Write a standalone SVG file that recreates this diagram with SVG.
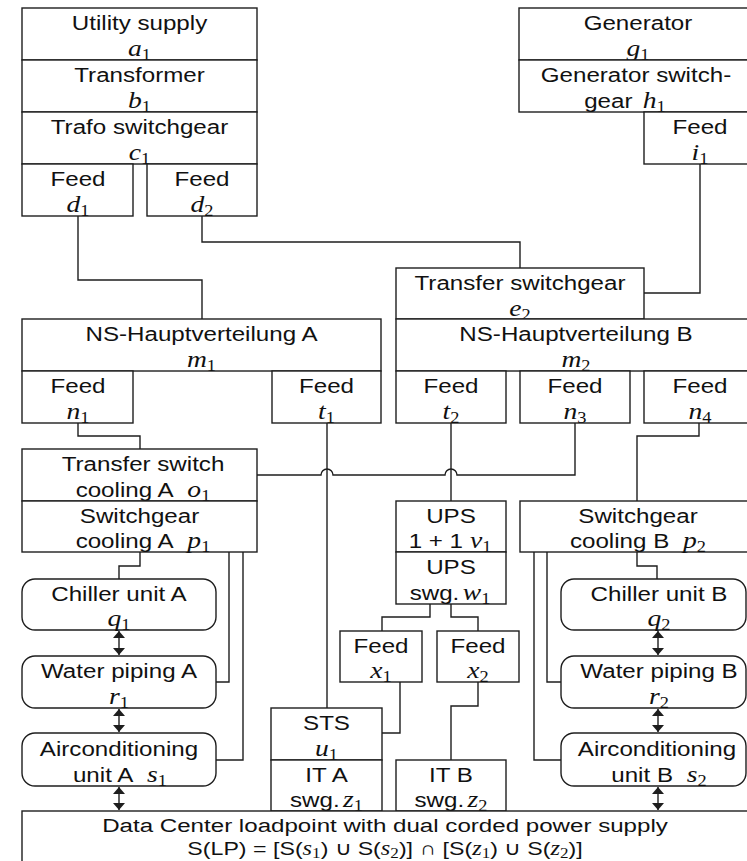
<svg xmlns="http://www.w3.org/2000/svg" width="747" height="861" viewBox="0 0 747 861">
<style>
.b{fill:#fff;stroke:#1e1e1e;stroke-width:1.4}
.c{fill:none;stroke:#1e1e1e;stroke-width:1.4}
.a{fill:none;stroke:#1e1e1e;stroke-width:1.4;marker-start:url(#ah);marker-end:url(#ah)}
.t{font-family:"Liberation Sans",Arial,sans-serif;font-size:21px;text-anchor:middle;fill:#111}
.d{font-size:19px}
.v{font-family:"Liberation Serif","Times New Roman",serif;font-style:italic;font-size:24px}
.s{font-family:"Liberation Serif","Times New Roman",serif;font-style:normal;font-size:16px}
.d .v{font-size:20px}
.d .s{font-size:14px}
</style>
<defs>
<marker id="ah" viewBox="0 0 7 12" refX="7" refY="6" markerWidth="7" markerHeight="12" markerUnits="userSpaceOnUse" orient="auto-start-reverse">
<path d="M0,0 L7,6 L0,12 z" fill="#1e1e1e"/>
</marker>
</defs>
<rect width="747" height="861" fill="#fff"/>

<g id="connectors">
<path class="c" d="M78,216 V280 H202 V319"/>
<path class="c" d="M202,216 V242 H520 V268"/>
<path class="c" d="M700,164 V293 H644"/>
<path class="c" d="M78,423 V436 H140 V449"/>
<path class="c" d="M327,423 V708"/>
<path class="c" d="M451,423 V501"/>
<path class="c" d="M257,475 H321 A6,6 0 0 1 333,475 H445 A6,6 0 0 1 457,475 H575 V423"/>
<path class="c" d="M699,423 V436 H637 V501"/>
<path class="c" d="M140,552 V566 H119 V579"/>
<path class="c" d="M229,552 V682 H216"/>
<path class="c" d="M243,552 V760 H216"/>
<path class="c" d="M430,604 V617 H382 V631"/>
<path class="c" d="M451,604 V617 H478 V631"/>
<path class="c" d="M400,682 V733 H382"/>
<path class="c" d="M478,682 V706 H451 V760"/>
<path class="c" d="M637,552 V566 H657 V579"/>
<path class="c" d="M547,552 V682 H561"/>
<path class="c" d="M534,552 V760 H561"/>
<path class="a" d="M119,631 V655"/>
<path class="a" d="M119,709 V732"/>
<path class="a" d="M119,787 V810"/>
<path class="a" d="M658,631 V655"/>
<path class="a" d="M658,709 V732"/>
<path class="a" d="M658,787 V810"/>
</g>

<g id="a1"><rect class="b" x="22" y="8" width="235" height="52"/>
<text class="t" transform="translate(139.5,29.5) scale(1.15,1)">Utility supply</text>
<text class="t" transform="translate(139.5,55.5) scale(1.15,1)"><tspan class="v">a</tspan><tspan class="s" dy="4">1</tspan></text></g>
<g id="b1"><rect class="b" x="22" y="60" width="235" height="52"/>
<text class="t" transform="translate(139.5,81.5) scale(1.15,1)">Transformer</text>
<text class="t" transform="translate(139.5,107.5) scale(1.15,1)"><tspan class="v">b</tspan><tspan class="s" dy="4">1</tspan></text></g>
<g id="c1"><rect class="b" x="22" y="112" width="235" height="52"/>
<text class="t" transform="translate(139.5,133.5) scale(1.15,1)">Trafo switchgear</text>
<text class="t" transform="translate(139.5,159.5) scale(1.15,1)"><tspan class="v">c</tspan><tspan class="s" dy="4">1</tspan></text></g>
<g id="d1"><rect class="b" x="22" y="164" width="111" height="52"/>
<text class="t" transform="translate(78,185.5) scale(1.15,1)">Feed</text>
<text class="t" transform="translate(78,211.5) scale(1.15,1)"><tspan class="v">d</tspan><tspan class="s" dy="4">1</tspan></text></g>
<g id="d2"><rect class="b" x="147" y="164" width="110" height="52"/>
<text class="t" transform="translate(202,185.5) scale(1.15,1)">Feed</text>
<text class="t" transform="translate(202,211.5) scale(1.15,1)"><tspan class="v">d</tspan><tspan class="s" dy="4">2</tspan></text></g>

<g id="g1"><rect class="b" x="519" y="8" width="240" height="52"/>
<text class="t" transform="translate(638,29.5) scale(1.15,1)">Generator</text>
<text class="t" transform="translate(638,55.5) scale(1.15,1)"><tspan class="v">g</tspan><tspan class="s" dy="4">1</tspan></text></g>
<g id="h1"><rect class="b" x="519" y="60" width="240" height="52"/>
<text class="t" transform="translate(636,81.5) scale(1.15,1)">Generator switch-</text>
<text class="t" transform="translate(625,107.5) scale(1.15,1)">gear<tspan class="v" dx="9">h</tspan><tspan class="s" dy="4">1</tspan></text></g>
<g id="i1"><rect class="b" x="644" y="112" width="115" height="52"/>
<text class="t" transform="translate(700,133.5) scale(1.15,1)">Feed</text>
<text class="t" transform="translate(700,159.5) scale(1.15,1)"><tspan class="v">i</tspan><tspan class="s" dy="4">1</tspan></text></g>

<g id="e2"><rect class="b" x="396" y="268" width="248" height="51"/>
<text class="t" transform="translate(520,289.5) scale(1.15,1)">Transfer switchgear</text>
<text class="t" transform="translate(520,315.5) scale(1.15,1)"><tspan class="v">e</tspan><tspan class="s" dy="4">2</tspan></text></g>

<g id="m1"><rect class="b" x="22" y="319" width="359" height="52"/>
<text class="t" transform="translate(201.5,340.5) scale(1.15,1)">NS-Hauptverteilung A</text>
<text class="t" transform="translate(201.5,366.5) scale(1.15,1)"><tspan class="v">m</tspan><tspan class="s" dy="4">1</tspan></text></g>
<g id="m2"><rect class="b" x="396" y="319" width="363" height="52"/>
<text class="t" transform="translate(576,340.5) scale(1.15,1)">NS-Hauptverteilung B</text>
<text class="t" transform="translate(576,366.5) scale(1.15,1)"><tspan class="v">m</tspan><tspan class="s" dy="4">2</tspan></text></g>

<g id="n1"><rect class="b" x="22" y="371" width="111" height="52"/>
<text class="t" transform="translate(78,392.5) scale(1.15,1)">Feed</text>
<text class="t" transform="translate(78,418.5) scale(1.15,1)"><tspan class="v">n</tspan><tspan class="s" dy="4">1</tspan></text></g>
<g id="t1"><rect class="b" x="272" y="371" width="109" height="52"/>
<text class="t" transform="translate(326.5,392.5) scale(1.15,1)">Feed</text>
<text class="t" transform="translate(326.5,418.5) scale(1.15,1)"><tspan class="v">t</tspan><tspan class="s" dy="4">1</tspan></text></g>
<g id="t2"><rect class="b" x="396" y="371" width="110" height="52"/>
<text class="t" transform="translate(451,392.5) scale(1.15,1)">Feed</text>
<text class="t" transform="translate(451,418.5) scale(1.15,1)"><tspan class="v">t</tspan><tspan class="s" dy="4">2</tspan></text></g>
<g id="n3"><rect class="b" x="520" y="371" width="110" height="52"/>
<text class="t" transform="translate(575,392.5) scale(1.15,1)">Feed</text>
<text class="t" transform="translate(575,418.5) scale(1.15,1)"><tspan class="v">n</tspan><tspan class="s" dy="4">3</tspan></text></g>
<g id="n4"><rect class="b" x="644" y="371" width="115" height="52"/>
<text class="t" transform="translate(700,392.5) scale(1.15,1)">Feed</text>
<text class="t" transform="translate(700,418.5) scale(1.15,1)"><tspan class="v">n</tspan><tspan class="s" dy="4">4</tspan></text></g>

<g id="o1"><rect class="b" x="22" y="449" width="235" height="52"/>
<text class="t" transform="translate(143,470.5) scale(1.15,1)">Transfer switch</text>
<text class="t" transform="translate(143,496.5) scale(1.15,1)">cooling A<tspan class="v" dx="12">o</tspan><tspan class="s" dy="4">1</tspan></text></g>
<g id="p1"><rect class="b" x="22" y="501" width="235" height="51"/>
<text class="t" transform="translate(139.5,522.5) scale(1.15,1)">Switchgear</text>
<text class="t" transform="translate(143,548) scale(1.15,1)">cooling A<tspan class="v" dx="12">p</tspan><tspan class="s" dy="4">1</tspan></text></g>

<g id="v1"><rect class="b" x="396" y="501" width="110" height="51"/>
<text class="t" transform="translate(451,522.5) scale(1.15,1)">UPS</text>
<text class="t" transform="translate(450,548) scale(1.15,1)">1 + 1<tspan class="v" dx="6">v</tspan><tspan class="s" dy="4">1</tspan></text></g>
<g id="w1"><rect class="b" x="396" y="552" width="110" height="52"/>
<text class="t" transform="translate(451,573.5) scale(1.15,1)">UPS</text>
<text class="t" transform="translate(450,599.5) scale(1.15,1)">swg.<tspan class="v" dx="3">w</tspan><tspan class="s" dy="4">1</tspan></text></g>

<g id="p2"><rect class="b" x="520" y="501" width="239" height="51"/>
<text class="t" transform="translate(638,522.5) scale(1.15,1)">Switchgear</text>
<text class="t" transform="translate(638,548) scale(1.15,1)">cooling B<tspan class="v" dx="12">p</tspan><tspan class="s" dy="4">2</tspan></text></g>

<g id="q1"><rect class="b" x="22" y="579" width="194" height="51" rx="13"/>
<text class="t" transform="translate(119,600.5) scale(1.15,1)">Chiller unit A</text>
<text class="t" transform="translate(119,626) scale(1.15,1)"><tspan class="v">q</tspan><tspan class="s" dy="4">1</tspan></text></g>
<g id="r1"><rect class="b" x="22" y="656" width="194" height="52" rx="13"/>
<text class="t" transform="translate(119,677.5) scale(1.15,1)">Water piping A</text>
<text class="t" transform="translate(119,703.5) scale(1.15,1)"><tspan class="v">r</tspan><tspan class="s" dy="4">1</tspan></text></g>
<g id="s1"><rect class="b" x="22" y="733" width="194" height="53" rx="13"/>
<text class="t" transform="translate(119,756) scale(1.15,1)">Airconditioning</text>
<text class="t" transform="translate(120,781.5) scale(1.15,1)">unit A<tspan class="v" dx="12">s</tspan><tspan class="s" dy="4">1</tspan></text></g>

<g id="q2"><rect class="b" x="561" y="579" width="185" height="51" rx="13"/>
<text class="t" transform="translate(659,600.5) scale(1.15,1)">Chiller unit B</text>
<text class="t" transform="translate(659,626) scale(1.15,1)"><tspan class="v">q</tspan><tspan class="s" dy="4">2</tspan></text></g>
<g id="r2"><rect class="b" x="561" y="656" width="185" height="52" rx="13"/>
<text class="t" transform="translate(659,677.5) scale(1.15,1)">Water piping B</text>
<text class="t" transform="translate(659,703.5) scale(1.15,1)"><tspan class="v">r</tspan><tspan class="s" dy="4">2</tspan></text></g>
<g id="s2"><rect class="b" x="561" y="733" width="185" height="53" rx="13"/>
<text class="t" transform="translate(657,756) scale(1.15,1)">Airconditioning</text>
<text class="t" transform="translate(659,781.5) scale(1.15,1)">unit B<tspan class="v" dx="12">s</tspan><tspan class="s" dy="4">2</tspan></text></g>

<g id="x1"><rect class="b" x="340" y="631" width="82" height="51"/>
<text class="t" transform="translate(381,652.5) scale(1.15,1)">Feed</text>
<text class="t" transform="translate(381,678) scale(1.15,1)"><tspan class="v">x</tspan><tspan class="s" dy="4">1</tspan></text></g>
<g id="x2"><rect class="b" x="437" y="631" width="82" height="51"/>
<text class="t" transform="translate(478,652.5) scale(1.15,1)">Feed</text>
<text class="t" transform="translate(478,678) scale(1.15,1)"><tspan class="v">x</tspan><tspan class="s" dy="4">2</tspan></text></g>

<g id="u1"><rect class="b" x="271" y="708" width="111" height="52"/>
<text class="t" transform="translate(326.5,729.5) scale(1.15,1)">STS</text>
<text class="t" transform="translate(326.5,755.5) scale(1.15,1)"><tspan class="v">u</tspan><tspan class="s" dy="4">1</tspan></text></g>
<g id="z1"><rect class="b" x="271" y="760" width="111" height="51"/>
<text class="t" transform="translate(326.5,781.5) scale(1.15,1)">IT A</text>
<text class="t" transform="translate(326.5,807) scale(1.15,1)">swg.<tspan class="v" dx="3">z</tspan><tspan class="s" dy="4">1</tspan></text></g>
<g id="z2"><rect class="b" x="396" y="760" width="110" height="51"/>
<text class="t" transform="translate(451,781.5) scale(1.15,1)">IT B</text>
<text class="t" transform="translate(451,807) scale(1.15,1)">swg.<tspan class="v" dx="3">z</tspan><tspan class="s" dy="4">2</tspan></text></g>

<g id="LP"><rect class="b" x="22" y="811" width="740" height="70"/>
<text class="t d" transform="translate(385,831.5) scale(1.27,1)">Data Center loadpoint with dual corded power supply</text>
<text class="t d" transform="translate(385,855) scale(1.22,1)">S(LP) = [S(<tspan class="v">s</tspan><tspan class="s" dy="3">1</tspan><tspan dy="-3">) ∪ S(</tspan><tspan class="v">s</tspan><tspan class="s" dy="3">2</tspan><tspan dy="-3">)] ∩ [S(</tspan><tspan class="v">z</tspan><tspan class="s" dy="3">1</tspan><tspan dy="-3">) ∪ S(</tspan><tspan class="v">z</tspan><tspan class="s" dy="3">2</tspan><tspan dy="-3">)]</tspan></text></g>
</svg>
